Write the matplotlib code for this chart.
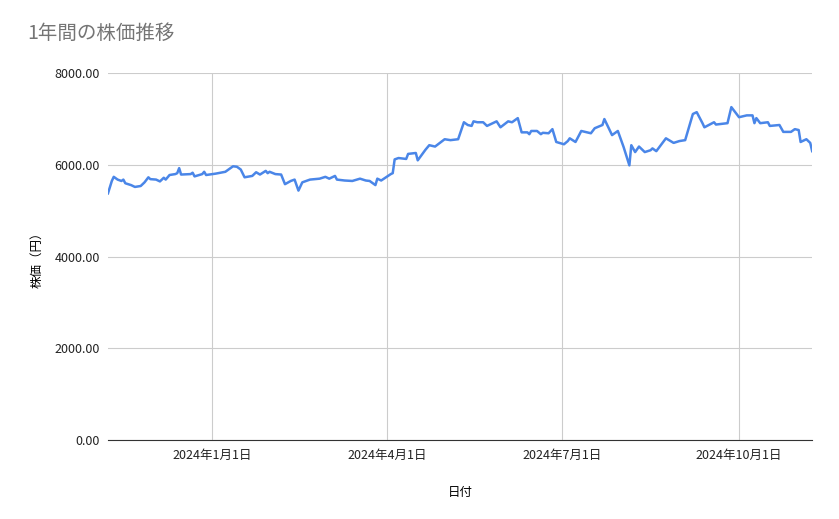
import matplotlib
matplotlib.use("Agg")
import matplotlib.pyplot as plt
import matplotlib.dates as mdates
import pandas as pd

plt.rcParams['font.family'] = ['Noto Sans CJK JP', 'DejaVu Sans']

dates = ["2023-11-08","2023-11-10","2023-11-11","2023-11-13","2023-11-15","2023-11-16","2023-11-17","2023-11-20","2023-11-22","2023-11-25","2023-11-27","2023-11-29","2023-11-30","2023-12-03","2023-12-05","2023-12-07","2023-12-08","2023-12-10","2023-12-13","2023-12-14","2023-12-15","2023-12-16","2023-12-21","2023-12-22","2023-12-23","2023-12-27","2023-12-28","2023-12-29",
"2024-01-03","2024-01-08","2024-01-12","2024-01-14","2024-01-16","2024-01-18","2024-01-22","2024-01-24","2024-01-26","2024-01-29","2024-01-30","2024-01-31","2024-02-03","2024-02-06","2024-02-08","2024-02-11","2024-02-13","2024-02-15","2024-02-17","2024-02-21","2024-02-26","2024-02-29","2024-03-02","2024-03-05","2024-03-06","2024-03-10","2024-03-14","2024-03-18","2024-03-21","2024-03-23","2024-03-26","2024-03-27","2024-03-29",
"2024-04-03","2024-04-04","2024-04-05","2024-04-07","2024-04-11","2024-04-12","2024-04-16","2024-04-17","2024-04-21","2024-04-23","2024-04-26","2024-05-01","2024-05-04","2024-05-08","2024-05-11","2024-05-13","2024-05-15","2024-05-16","2024-05-18","2024-05-21","2024-05-23","2024-05-28","2024-05-30","2024-06-03","2024-06-05","2024-06-08","2024-06-10","2024-06-13","2024-06-14","2024-06-15","2024-06-18","2024-06-20","2024-06-21","2024-06-24","2024-06-26","2024-06-28",
"2024-07-02","2024-07-04","2024-07-05","2024-07-08","2024-07-11","2024-07-16","2024-07-18","2024-07-22","2024-07-23","2024-07-27","2024-07-30","2024-08-02","2024-08-05","2024-08-06","2024-08-08","2024-08-10","2024-08-13","2024-08-16","2024-08-17","2024-08-19","2024-08-24","2024-08-28","2024-08-31","2024-09-03","2024-09-07","2024-09-09","2024-09-12","2024-09-13","2024-09-18","2024-09-19","2024-09-25","2024-09-27",
"2024-10-01","2024-10-05","2024-10-08","2024-10-09","2024-10-10","2024-10-12","2024-10-16","2024-10-17","2024-10-22","2024-10-24","2024-10-28","2024-10-30","2024-11-01","2024-11-02","2024-11-05","2024-11-07","2024-11-08"]
prices = [5380,5650,5740,5680,5650,5680,5600,5560,5520,5540,5620,5730,5690,5680,5640,5720,5680,5780,5800,5820,5930,5790,5800,5830,5750,5800,5850,5780,
5810,5850,5970,5960,5900,5730,5760,5840,5790,5870,5820,5850,5800,5790,5580,5650,5680,5440,5620,5680,5700,5740,5700,5760,5680,5660,5650,5700,5660,5650,5560,5700,5660,
5800,5820,6120,6150,6130,6240,6260,6100,6330,6430,6400,6560,6540,6560,6930,6870,6850,6950,6930,6930,6850,6950,6820,6950,6930,7020,6710,6710,6670,6740,6740,6670,6700,6690,6780,6500,
6450,6520,6580,6500,6740,6690,6800,6870,7000,6650,6740,6390,5990,6430,6280,6400,6280,6320,6360,6300,6580,6480,6520,6540,7110,7150,6910,6820,6930,6880,6910,7260,
7040,7080,7080,6910,7020,6910,6930,6850,6870,6720,6720,6780,6760,6500,6560,6480,6300]

tick_dates = ["2024-01-01","2024-04-01","2024-07-01","2024-10-01"]
tick_labels = ["2024年1月1日","2024年4月1日","2024年7月1日","2024年10月1日"]
y_ticks = [0, 2000, 4000, 6000, 8000]

x = pd.to_datetime(dates)
fig = plt.figure(figsize=(8.39, 5.19), dpi=100)
ax = fig.add_axes([0.1287, 0.152, 0.8393, 0.707])
ax.plot(x, prices, color="#4a86e8", lw=1.8)
ax.set_xlim(pd.Timestamp("2023-11-08"), pd.Timestamp("2024-11-08"))
ax.set_ylim(0, 8000)
ax.set_yticks(y_ticks)
ax.set_yticklabels([f"{v:.2f}" for v in y_ticks])
ax.set_xticks(pd.to_datetime(tick_dates))
ax.set_xticklabels(tick_labels)
ax.grid(True, color="#cccccc", lw=0.8)
ax.set_axisbelow(True)
for s in ["top", "right", "left"]:
    ax.spines[s].set_visible(False)
ax.spines["bottom"].set_color("#333333")
ax.tick_params(length=0, labelsize=9, colors="#222222", pad=6)
ax.set_xlabel("日付", fontsize=9, labelpad=18)
ax.set_ylabel("株価（円）", fontsize=9, labelpad=8)
fig.text(0.033, 0.925, "1年間の株価推移", fontsize=14, color="#757575")
fig.savefig("out.png", dpi=100)
